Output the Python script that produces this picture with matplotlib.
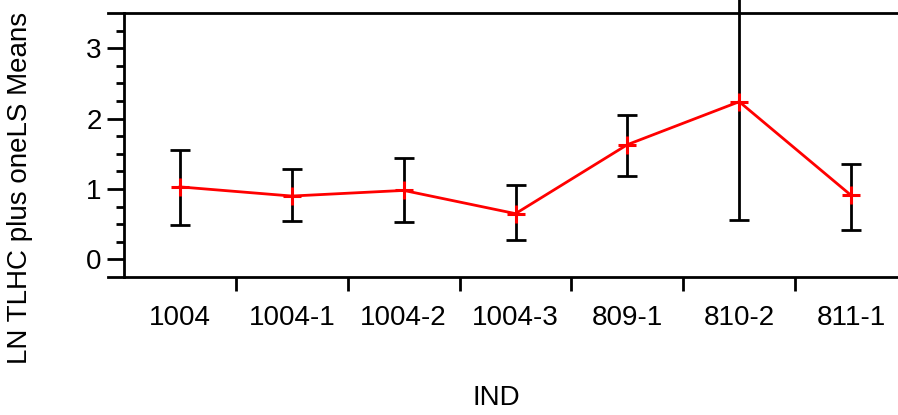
import matplotlib
matplotlib.use("Agg")
import matplotlib.pyplot as plt
from matplotlib.ticker import FixedLocator, NullFormatter

plt.rcParams['font.family'] = ['Liberation Sans', 'DejaVu Sans']

# data
categories = ["1004", "1004-1", "1004-2", "1004-3", "809-1", "810-2", "811-1"]
means = [1.03, 0.90, 0.98, 0.65, 1.63, 2.24, 0.91]
upper = [1.55, 1.29, 1.44, 1.06, 2.05, 3.95, 1.36]
lower = [0.49, 0.54, 0.53, 0.27, 1.18, 0.565, 0.42]


def main():
    fig = plt.figure(figsize=(8.98, 4.15), dpi=100)
    # axes runs past the right edge of the figure (cropped in the original)
    ax = fig.add_axes([124 / 898, 138 / 415, 783 / 898, 264 / 415])

    x = list(range(len(categories)))
    err_lo = [m - l for m, l in zip(means, lower)]
    err_hi = [u - m for m, u in zip(means, upper)]

    eb = ax.errorbar(x, means, yerr=[err_lo, err_hi], fmt="none", ecolor="black",
                     elinewidth=2, capsize=7, capthick=2, zorder=2)
    for part in list(eb.lines[1]) + list(eb.lines[2]):
        part.set_clip_on(False)

    ax.plot(x, means, color="red", lw=2, marker="+", markersize=13,
            markeredgewidth=2.2, zorder=3, clip_on=False)

    ax.set_xlim(-0.5, len(categories) - 0.5)
    ax.set_ylim(-0.25, 3.5)

    # x ticks sit between categories, labels at the centres
    ax.xaxis.set_major_locator(FixedLocator([i + 0.5 for i in x[:-1]]))
    ax.xaxis.set_major_formatter(NullFormatter())
    ax.xaxis.set_minor_locator(FixedLocator(x))
    ax.set_xticklabels(categories, minor=True)
    ax.tick_params(axis="x", which="major", length=10, width=2, direction="out")
    ax.tick_params(axis="x", which="minor", length=0, pad=20, labelsize=20)

    ax.set_yticks([0, 1, 2, 3])
    ax.yaxis.set_minor_locator(FixedLocator([i * 0.25 for i in range(0, 14)]))
    ax.tick_params(axis="y", which="major", length=12, width=2, pad=4, labelsize=20)
    ax.tick_params(axis="y", which="minor", length=6, width=2)

    ax.spines["right"].set_visible(False)
    for side in ["top", "bottom", "left"]:
        ax.spines[side].set_linewidth(2)

    # top and bottom lines reach left past the y axis
    ax.axhline(3.5, xmin=-0.021, xmax=0, color="black", lw=2, clip_on=False)
    ax.axhline(-0.25, xmin=-0.021, xmax=0, color="black", lw=2, clip_on=False)

    fig.text(496 / 898, 1 - 398 / 415, "IND", fontsize=20, ha="center", va="center")
    fig.text(20 / 898, 1 - 188 / 415, "LN TLHC plus oneLS Means", fontsize=20,
             rotation=90, ha="center", va="center")

    fig.savefig("out.png", dpi=100)


if __name__ == "__main__":
    main()
